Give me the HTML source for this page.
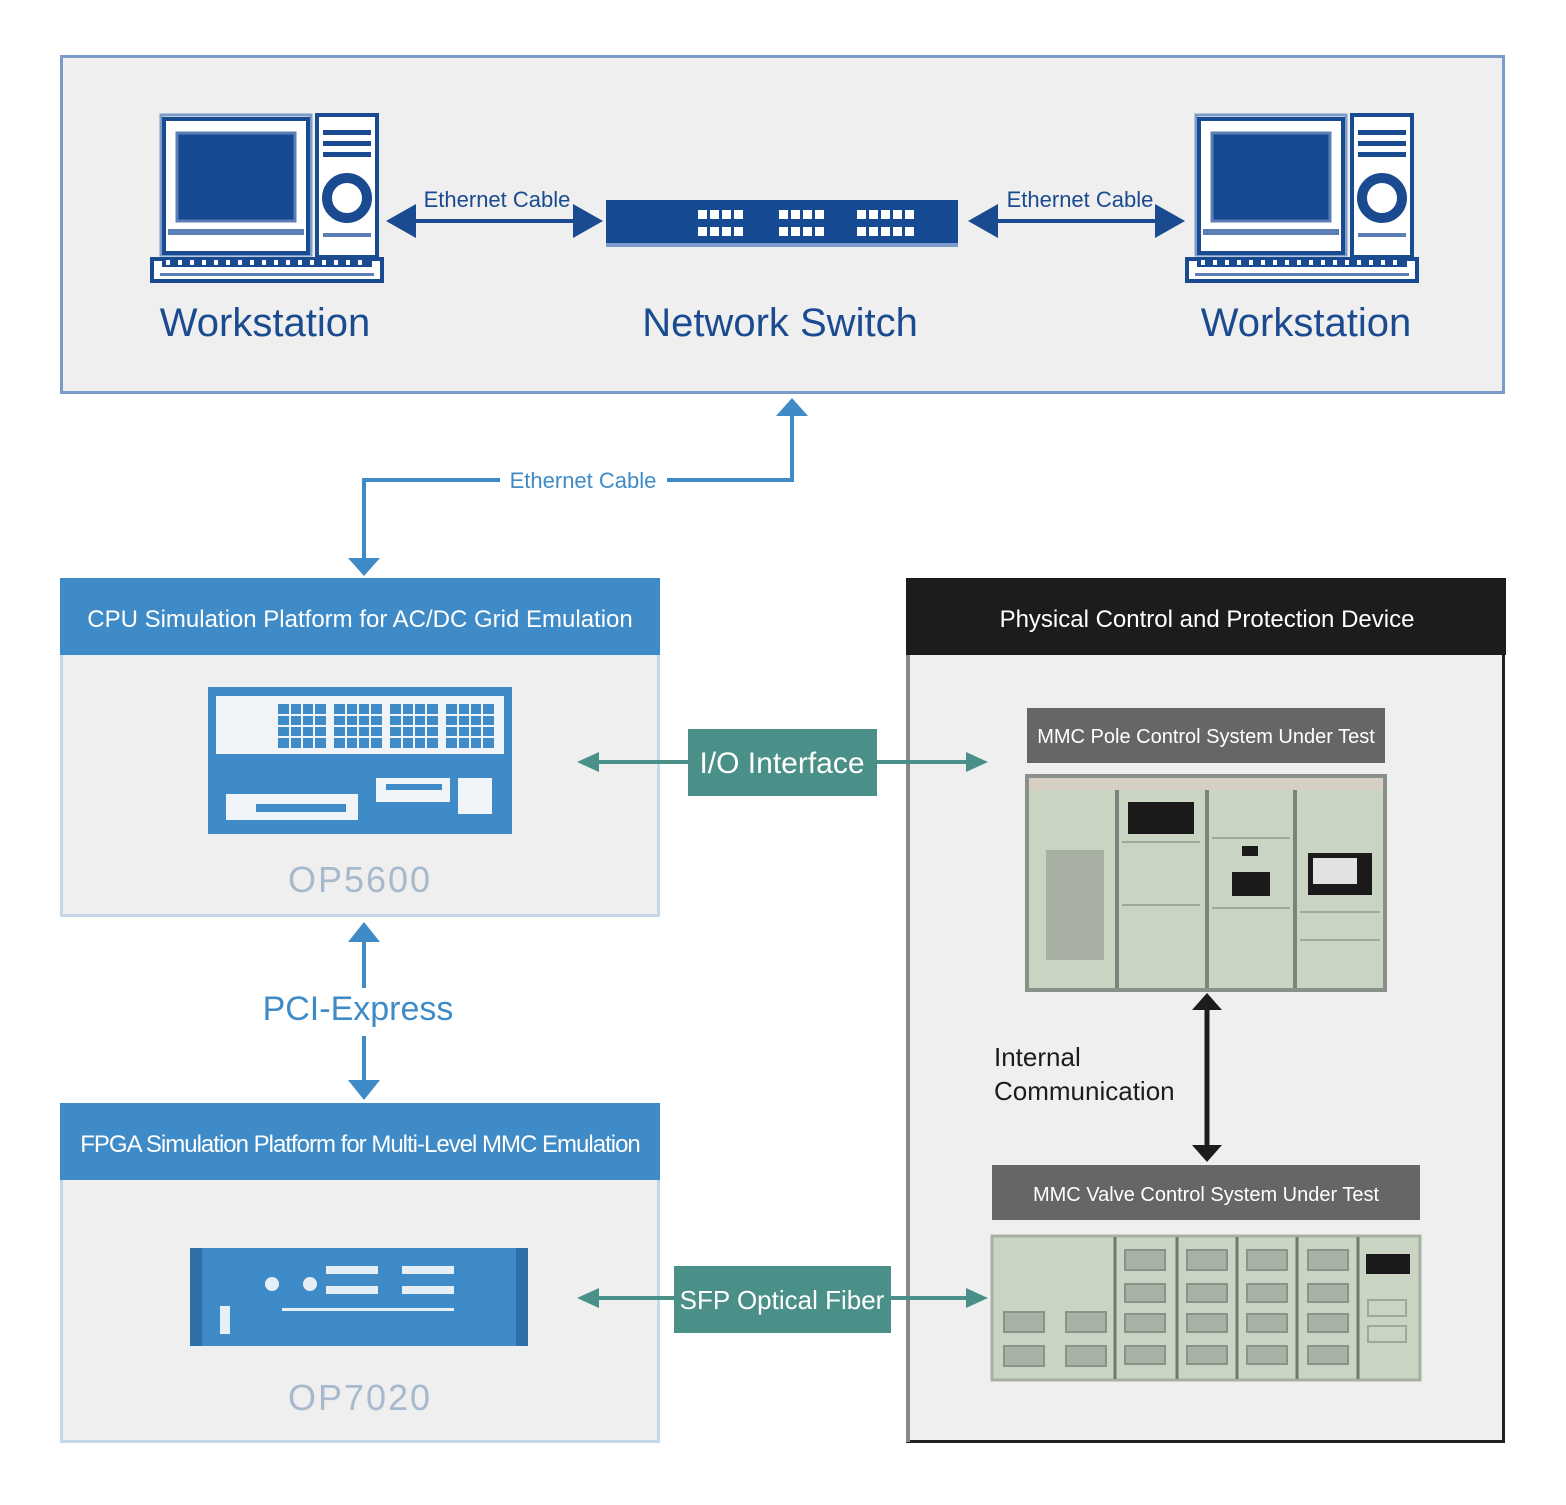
<!DOCTYPE html>
<html><head><meta charset="utf-8"><style>
html,body{margin:0;padding:0;background:#fff}
svg{display:block}
text{font-family:"Liberation Sans",sans-serif}
</style></head><body>
<svg width="1566" height="1505" viewBox="0 0 1566 1505" xmlns="http://www.w3.org/2000/svg">
<defs>
<g id="ws">
  <rect x="11" y="2" width="150" height="140" fill="#fff" stroke="#7b9cc8" stroke-width="3"/>
  <rect x="14" y="6" width="144" height="134" fill="none" stroke="#1a4a8f" stroke-width="4"/>
  <rect x="27" y="20" width="118" height="88" fill="#164a93" stroke="#5b7fb5" stroke-width="3"/>
  <rect x="18" y="116" width="136" height="6" fill="#5b7fb5"/>
  <rect x="167" y="2" width="60" height="142" fill="#fff" stroke="#1a4a8f" stroke-width="4"/>
  <rect x="173" y="17" width="48" height="5" fill="#1a4a8f"/>
  <rect x="173" y="28" width="48" height="5" fill="#1a4a8f"/>
  <rect x="173" y="39" width="48" height="5" fill="#1a4a8f"/>
  <circle cx="197" cy="85" r="20" fill="none" stroke="#1a4a8f" stroke-width="10"/>
  <rect x="173" y="120" width="48" height="4" fill="#5b7fb5"/>
  <rect x="2" y="146" width="230" height="22" fill="#fff" stroke="#1a4a8f" stroke-width="4"/>
  <rect x="12" y="146" width="210" height="8" fill="#1a4a8f"/>
  <g fill="#fff">
   <rect x="16" y="147" width="4" height="5"/><rect x="28" y="147" width="4" height="5"/><rect x="40" y="147" width="4" height="5"/><rect x="52" y="147" width="4" height="5"/><rect x="64" y="147" width="4" height="5"/><rect x="76" y="147" width="4" height="5"/><rect x="88" y="147" width="4" height="5"/><rect x="100" y="147" width="4" height="5"/><rect x="112" y="147" width="4" height="5"/><rect x="124" y="147" width="4" height="5"/><rect x="136" y="147" width="4" height="5"/><rect x="148" y="147" width="4" height="5"/><rect x="160" y="147" width="4" height="5"/><rect x="172" y="147" width="4" height="5"/><rect x="184" y="147" width="4" height="5"/><rect x="196" y="147" width="4" height="5"/><rect x="208" y="147" width="4" height="5"/>
  </g>
  <rect x="10" y="160" width="214" height="3" fill="#5b7fb5"/>
</g>
</defs>

<rect x="61.5" y="56.5" width="1442" height="336" fill="#efefef" stroke="#7b9cc8" stroke-width="3"/>
<use href="#ws" x="150" y="113"/>
<use href="#ws" x="1185" y="113"/>
<rect x="606" y="200" width="352" height="47" fill="#164a93"/>
<rect x="606" y="243" width="352" height="4" fill="#7b9cc8"/>
<g fill="#fff">
 <g id="prow">
  <rect x="698" y="210" width="9" height="9"/><rect x="710" y="210" width="9" height="9"/><rect x="722" y="210" width="9" height="9"/><rect x="734" y="210" width="9" height="9"/>
  <rect x="779" y="210" width="9" height="9"/><rect x="791" y="210" width="9" height="9"/><rect x="803" y="210" width="9" height="9"/><rect x="815" y="210" width="9" height="9"/>
  <rect x="857" y="210" width="9" height="9"/><rect x="869" y="210" width="9" height="9"/><rect x="881" y="210" width="9" height="9"/><rect x="893" y="210" width="9" height="9"/><rect x="905" y="210" width="9" height="9"/>
 </g>
 <use href="#prow" y="17"/>
</g>
<g fill="#1a4a8f" stroke="#1a4a8f">
 <line x1="410" y1="221" x2="580" y2="221" stroke-width="4"/>
 <polygon points="386,221 416,204 416,238" stroke="none"/>
 <polygon points="603,221 573,204 573,238" stroke="none"/>
 <line x1="993" y1="221" x2="1162" y2="221" stroke-width="4"/>
 <polygon points="968,221 998,204 998,238" stroke="none"/>
 <polygon points="1185,221 1155,204 1155,238" stroke="none"/>
</g>
<text x="497" y="207" font-size="22" fill="#1a4a8f" text-anchor="middle">Ethernet Cable</text>
<text x="1080" y="207" font-size="22" fill="#1a4a8f" text-anchor="middle">Ethernet Cable</text>
<text x="265" y="336" font-size="40" fill="#1a4a8f" text-anchor="middle">Workstation</text>
<text x="780" y="336" font-size="40" fill="#1a4a8f" text-anchor="middle">Network Switch</text>
<text x="1306" y="336" font-size="40" fill="#1a4a8f" text-anchor="middle">Workstation</text>

<g stroke="#3f8bc7" stroke-width="4" fill="none">
 <polyline points="364,560 364,480 500,480"/>
 <polyline points="667,480 792,480 792,412"/>
</g>
<polygon points="348,558 380,558 364,576" fill="#3f8bc7"/>
<polygon points="776,416 808,416 792,398" fill="#3f8bc7"/>
<text x="583" y="488" font-size="22" fill="#3f8bc7" text-anchor="middle">Ethernet Cable</text>

<rect x="61.5" y="579.5" width="597" height="336" fill="#efefef" stroke="#c5d8ea" stroke-width="3"/>
<rect x="60" y="578" width="600" height="77" fill="#3f8bc7"/>
<text x="360" y="627" font-size="24" fill="#fff" text-anchor="middle">CPU Simulation Platform for AC/DC Grid Emulation</text>
<rect x="208" y="687" width="304" height="147" fill="#3f8bc7"/>
<rect x="216" y="696" width="288" height="58" fill="#f0f4f8"/>
<g fill="#3f8bc7">
 <rect x="278" y="704" width="48" height="44"/><rect x="334" y="704" width="48" height="44"/><rect x="390" y="704" width="48" height="44"/><rect x="446" y="704" width="48" height="44"/>
</g>
<g stroke="#f0f4f8" stroke-width="2">
 <line x1="278" y1="715" x2="494" y2="715"/><line x1="278" y1="726" x2="494" y2="726"/><line x1="278" y1="737" x2="494" y2="737"/>
 <line x1="290" y1="704" x2="290" y2="748"/><line x1="302" y1="704" x2="302" y2="748"/><line x1="314" y1="704" x2="314" y2="748"/>
 <line x1="346" y1="704" x2="346" y2="748"/><line x1="358" y1="704" x2="358" y2="748"/><line x1="370" y1="704" x2="370" y2="748"/>
 <line x1="402" y1="704" x2="402" y2="748"/><line x1="414" y1="704" x2="414" y2="748"/><line x1="426" y1="704" x2="426" y2="748"/>
 <line x1="458" y1="704" x2="458" y2="748"/><line x1="470" y1="704" x2="470" y2="748"/><line x1="482" y1="704" x2="482" y2="748"/>
</g>
<rect x="226" y="794" width="132" height="26" fill="#f0f4f8"/>
<rect x="376" y="778" width="74" height="24" fill="#f0f4f8"/>
<rect x="458" y="778" width="34" height="36" fill="#f0f4f8"/>
<g fill="#3f8bc7"><rect x="256" y="804" width="90" height="8"/><rect x="386" y="784" width="56" height="6"/></g>
<text x="360" y="892" font-size="36" fill="#a7b9cc" text-anchor="middle" letter-spacing="2">OP5600</text>

<line x1="364" y1="940" x2="364" y2="988" stroke="#3f8bc7" stroke-width="4"/>
<line x1="364" y1="1036" x2="364" y2="1084" stroke="#3f8bc7" stroke-width="4"/>
<polygon points="348,942 380,942 364,922" fill="#3f8bc7"/>
<polygon points="348,1080 380,1080 364,1100" fill="#3f8bc7"/>
<text x="358" y="1020" font-size="34" fill="#3f8bc7" text-anchor="middle">PCI-Express</text>

<rect x="61.5" y="1104.5" width="597" height="337" fill="#efefef" stroke="#c5d8ea" stroke-width="3"/>
<rect x="60" y="1103" width="600" height="77" fill="#3f8bc7"/>
<text x="360" y="1152" font-size="24" fill="#fff" text-anchor="middle" letter-spacing="-1">FPGA Simulation Platform for Multi-Level MMC Emulation</text>
<rect x="190" y="1248" width="338" height="98" fill="#3f8bc7"/>
<rect x="190" y="1248" width="12" height="98" fill="#2f70a8"/><rect x="516" y="1248" width="12" height="98" fill="#2f70a8"/>
<g fill="#e6eef6">
 <rect x="326" y="1266" width="52" height="8"/><rect x="326" y="1286" width="52" height="8"/>
 <rect x="402" y="1266" width="52" height="8"/><rect x="402" y="1286" width="52" height="8"/>
 <rect x="282" y="1308" width="172" height="3"/>
 <rect x="220" y="1306" width="10" height="28"/>
 <circle cx="272" cy="1284" r="7"/><circle cx="310" cy="1284" r="7"/>
</g>
<text x="360" y="1410" font-size="36" fill="#a7b9cc" text-anchor="middle" letter-spacing="2">OP7020</text>

<rect x="907.5" y="579.5" width="596" height="862" fill="#efefef" stroke="#222" stroke-width="3"/>
<rect x="906" y="580" width="4" height="862" fill="#888"/>
<rect x="906" y="578" width="600" height="77" fill="#1c1c1c"/>
<text x="1207" y="627" font-size="24" fill="#fff" text-anchor="middle">Physical Control and Protection Device</text>

<line x1="595" y1="762" x2="970" y2="762" stroke="#4a9088" stroke-width="4"/>
<polygon points="577,762 599,752 599,772" fill="#4a9088"/>
<polygon points="988,762 966,752 966,772" fill="#4a9088"/>
<rect x="688" y="729" width="189" height="67" fill="#4a9088"/>
<text x="782" y="773" font-size="30" fill="#fff" text-anchor="middle">I/O Interface</text>
<line x1="595" y1="1298" x2="970" y2="1298" stroke="#4a9088" stroke-width="4"/>
<polygon points="577,1298 599,1288 599,1308" fill="#4a9088"/>
<polygon points="988,1298 966,1288 966,1308" fill="#4a9088"/>
<rect x="674" y="1266" width="217" height="67" fill="#4a9088"/>
<text x="782" y="1309" font-size="26" fill="#fff" text-anchor="middle">SFP Optical Fiber</text>

<rect x="1027" y="708" width="358" height="55" fill="#666"/>
<text x="1206" y="743" font-size="20" fill="#fff" text-anchor="middle">MMC Pole Control System Under Test</text>
<rect x="1027" y="776" width="358" height="214" fill="#c9d4c3" stroke="#8a918a" stroke-width="4"/>
<g stroke="#7a827a" stroke-width="4"><line x1="1117" y1="778" x2="1117" y2="988"/><line x1="1207" y1="778" x2="1207" y2="988"/><line x1="1295" y1="778" x2="1295" y2="988"/></g>
<rect x="1029" y="778" width="354" height="12" fill="#d8cfc4"/>
<rect x="1046" y="850" width="58" height="110" fill="#a8b0a4"/>
<rect x="1128" y="802" width="66" height="32" fill="#1a1a1a"/>
<rect x="1232" y="872" width="38" height="24" fill="#1a1a1a"/>
<rect x="1242" y="846" width="16" height="10" fill="#1a1a1a"/>
<rect x="1308" y="853" width="64" height="42" fill="#1a1a1a"/>
<rect x="1313" y="858" width="44" height="26" fill="#e2e2e2"/>
<g stroke="#a0a89d" stroke-width="2"><line x1="1122" y1="842" x2="1200" y2="842"/><line x1="1122" y1="905" x2="1200" y2="905"/><line x1="1212" y1="838" x2="1290" y2="838"/><line x1="1212" y1="908" x2="1290" y2="908"/><line x1="1300" y1="912" x2="1380" y2="912"/><line x1="1300" y1="940" x2="1380" y2="940"/></g>

<line x1="1207" y1="1008" x2="1207" y2="1146" stroke="#1c1c1c" stroke-width="5"/>
<polygon points="1192,1010 1222,1010 1207,993" fill="#1c1c1c"/>
<polygon points="1192,1145 1222,1145 1207,1162" fill="#1c1c1c"/>
<text x="994" y="1066" font-size="26" fill="#1c1c1c">Internal</text>
<text x="994" y="1100" font-size="26" fill="#1c1c1c">Communication</text>

<rect x="992" y="1165" width="428" height="55" fill="#666"/>
<text x="1206" y="1201" font-size="20" fill="#fff" text-anchor="middle">MMC Valve Control System Under Test</text>
<rect x="992" y="1236" width="428" height="144" fill="#c9d4c3" stroke="#a8b0a4" stroke-width="3"/>
<g stroke="#6f776f" stroke-width="3"><line x1="1115" y1="1237" x2="1115" y2="1379"/><line x1="1177" y1="1237" x2="1177" y2="1379"/><line x1="1237" y1="1237" x2="1237" y2="1379"/><line x1="1297" y1="1237" x2="1297" y2="1379"/><line x1="1358" y1="1237" x2="1358" y2="1379"/></g>
<g fill="#a8b2a4" stroke="#8a928a" stroke-width="2">
 <rect x="1004" y="1312" width="40" height="20"/><rect x="1066" y="1312" width="40" height="20"/><rect x="1004" y="1346" width="40" height="20"/><rect x="1066" y="1346" width="40" height="20"/>
 <rect x="1125" y="1250" width="40" height="20"/><rect x="1125" y="1284" width="40" height="18"/><rect x="1125" y="1314" width="40" height="18"/><rect x="1125" y="1346" width="40" height="18"/>
 <rect x="1187" y="1250" width="40" height="20"/><rect x="1187" y="1284" width="40" height="18"/><rect x="1187" y="1314" width="40" height="18"/><rect x="1187" y="1346" width="40" height="18"/>
 <rect x="1247" y="1250" width="40" height="20"/><rect x="1247" y="1284" width="40" height="18"/><rect x="1247" y="1314" width="40" height="18"/><rect x="1247" y="1346" width="40" height="18"/>
 <rect x="1308" y="1250" width="40" height="20"/><rect x="1308" y="1284" width="40" height="18"/><rect x="1308" y="1314" width="40" height="18"/><rect x="1308" y="1346" width="40" height="18"/>
</g>
<rect x="1366" y="1254" width="44" height="20" fill="#1a1a1a"/>
<rect x="1368" y="1300" width="38" height="16" fill="none" stroke="#a0a89d" stroke-width="2"/>
<rect x="1368" y="1326" width="38" height="16" fill="none" stroke="#a0a89d" stroke-width="2"/>
</svg>
</body></html>
